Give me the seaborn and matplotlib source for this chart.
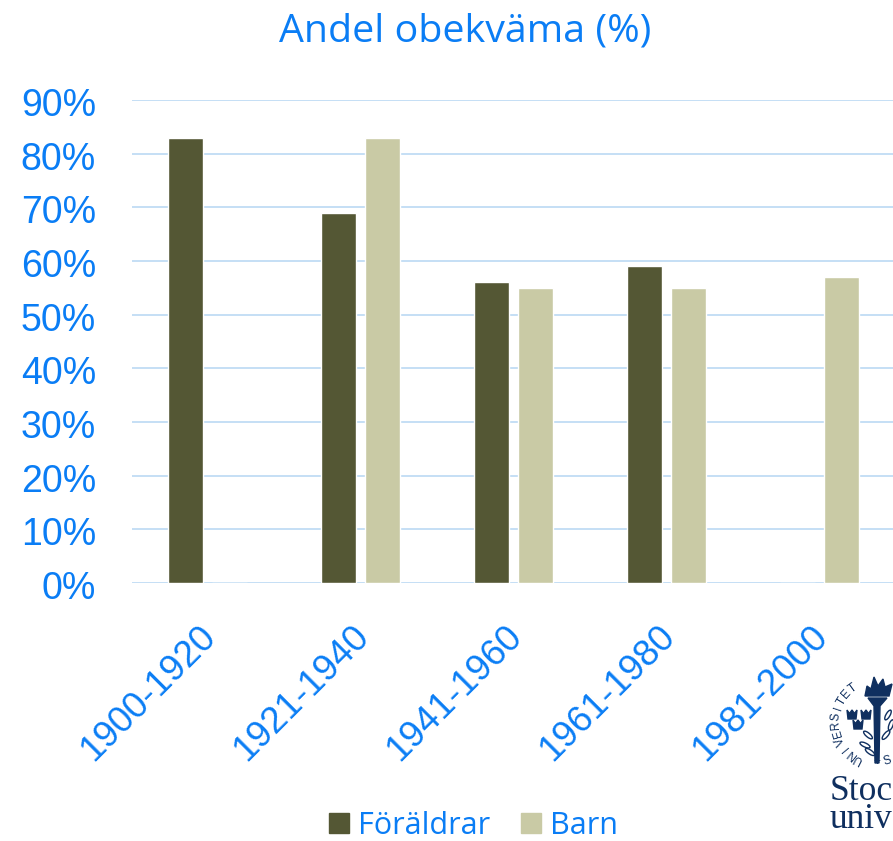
import pandas as pd
import matplotlib
matplotlib.use("Agg")
import matplotlib.pyplot as plt
import matplotlib.transforms as mtrans
from matplotlib.patches import Patch, Polygon, Ellipse
import numpy as np
import seaborn as sns

# ---------------------------
# DATA
# ---------------------------
periods = ["1900-1920", "1921-1940", "1941-1960", "1961-1980", "1981-2000"]
foraldrar = [83, 69, 56, 59, 0]
barn = [0, 83, 55, 55, 57]
y_ticks = [0, 10, 20, 30, 40, 50, 60, 70, 80, 90]

BLUE = "#0a7df5"
GRID = "#c5dff5"
DARK = "#545734"
LIGHT = "#c9caa5"
NAVY = "#0f2f5f"

sns.set_theme(style="white")
plt.rcParams["font.family"] = ["Liberation Sans", "DejaVu Sans"]

df = pd.DataFrame({"Period": periods, "Föräldrar": foraldrar, "Barn": barn})
df = df.melt(id_vars="Period", var_name="Grupp", value_name="Andel")

fig = plt.figure(figsize=(8.93, 8.41), dpi=100)
ax = fig.add_axes([132 / 893, 1 - 583 / 841, (893 - 132) / 893, (583 - 100) / 841])

sns.barplot(
    data=df, x="Period", y="Andel", hue="Grupp",
    palette={"Föräldrar": DARK, "Barn": LIGHT},
    order=periods, width=0.575, gap=0.2, saturation=1, legend=False, ax=ax, zorder=3,
)

ax.set_xlim(-0.4935, 4.48)
ax.set_ylim(0, 90)
ax.set_yticks(y_ticks)
ax.set_yticklabels([f"{v}%" for v in y_ticks], fontsize=27, color=BLUE)
ax.set_xlabel("")
ax.set_ylabel("")
ax.tick_params(axis="y", length=0, pad=26)
ax.tick_params(axis="x", length=0, pad=26)
ax.set_xticks(range(len(periods)))
ax.set_xticklabels(periods, fontsize=26.5, color=BLUE, rotation=45, ha="right", rotation_mode="anchor")

# nudge the tick labels a few pixels
shift_x = mtrans.ScaledTranslation(-9 / 100, 0, fig.dpi_scale_trans)
for lab in ax.get_xticklabels():
    lab.set_transform(lab.get_transform() + shift_x)
shift_y = mtrans.ScaledTranslation(0, -2 / 100, fig.dpi_scale_trans)
for lab in ax.get_yticklabels():
    lab.set_transform(lab.get_transform() + shift_y)

ax.grid(axis="y", color=GRID, linewidth=1.4, zorder=0)
ax.set_axisbelow(True)
for s in ax.spines.values():
    s.set_visible(False)

fig.text(465.5 / 893, 1 - 31.5 / 841, "Andel obekväma (%)", fontsize=28.4, color=BLUE,
         ha="center", va="center", family=["Open Sans", "DejaVu Sans"])

# legend
handles = [Patch(color=DARK, label="Föräldrar"), Patch(color=LIGHT, label="Barn")]
fig.legend(handles=handles, loc="center", bbox_to_anchor=(473.5 / 893, 1 - 826 / 841), ncol=2, frameon=False,
           prop={"family": ["Open Sans", "DejaVu Sans"], "size": 22}, labelcolor=BLUE,
           handlelength=0.65, handleheight=0.65, handletextpad=0.3, columnspacing=1.0)

# ---------------------------
# LOGO (cut off by the right edge)
# ---------------------------
logo = fig.add_axes([0, 0, 1, 1], facecolor="none")
logo.set_xlim(0, 893)
logo.set_ylim(841, 0)
logo.axis("off")

cx, cy, r = 877, 722, 41
for ch, ang in zip("UNIVERSITET", np.linspace(243, 126, 11)):
    a = np.deg2rad(ang)
    logo.text(cx + r * np.cos(a), cy - r * np.sin(a), ch, fontsize=8.5, color=NAVY,
              ha="center", va="center", rotation=ang - 90)
logo.text(877, 762, "+", fontsize=8.5, color=NAVY, ha="center", va="center")
logo.text(887, 761, "S", fontsize=8.5, color=NAVY, ha="center", va="center", rotation=17)

# torch
logo.add_patch(Polygon([(868, 698), (887, 698), (880, 706), (879, 763), (875, 763), (874, 706)], color=NAVY))
logo.add_patch(Polygon([(865, 696), (867, 686), (871, 689), (874, 677), (878, 686), (883, 679), (885, 687),
                        (892, 684), (889, 696)], color=NAVY))

# crowns
for x0, y0 in [(852, 715), (866, 715), (858, 725)]:
    logo.add_patch(Polygon([(x0 - 5, y0 - 5), (x0 - 2.5, y0 - 1.5), (x0, y0 - 5), (x0 + 2.5, y0 - 1.5),
                            (x0 + 5, y0 - 5), (x0 + 4, y0 + 4), (x0 - 4, y0 + 4)], color=NAVY))

# laurel leaves
for x0, y0, ang in [(868, 735, 40), (865, 745, 25), (870, 752, 35), (888, 715, 120), (891, 725, 110), (886, 735, 130)]:
    logo.add_patch(Ellipse((x0, y0), 11, 4, angle=ang, facecolor="white", edgecolor=NAVY, linewidth=1))

logo.text(830, 800, "Stoc", fontsize=25.5, color=NAVY, family="Liberation Serif", ha="left", va="baseline")
logo.text(830, 828, "univ", fontsize=25.5, color=NAVY, family="Liberation Serif", ha="left", va="baseline")

fig.savefig("out.png", dpi=100)
